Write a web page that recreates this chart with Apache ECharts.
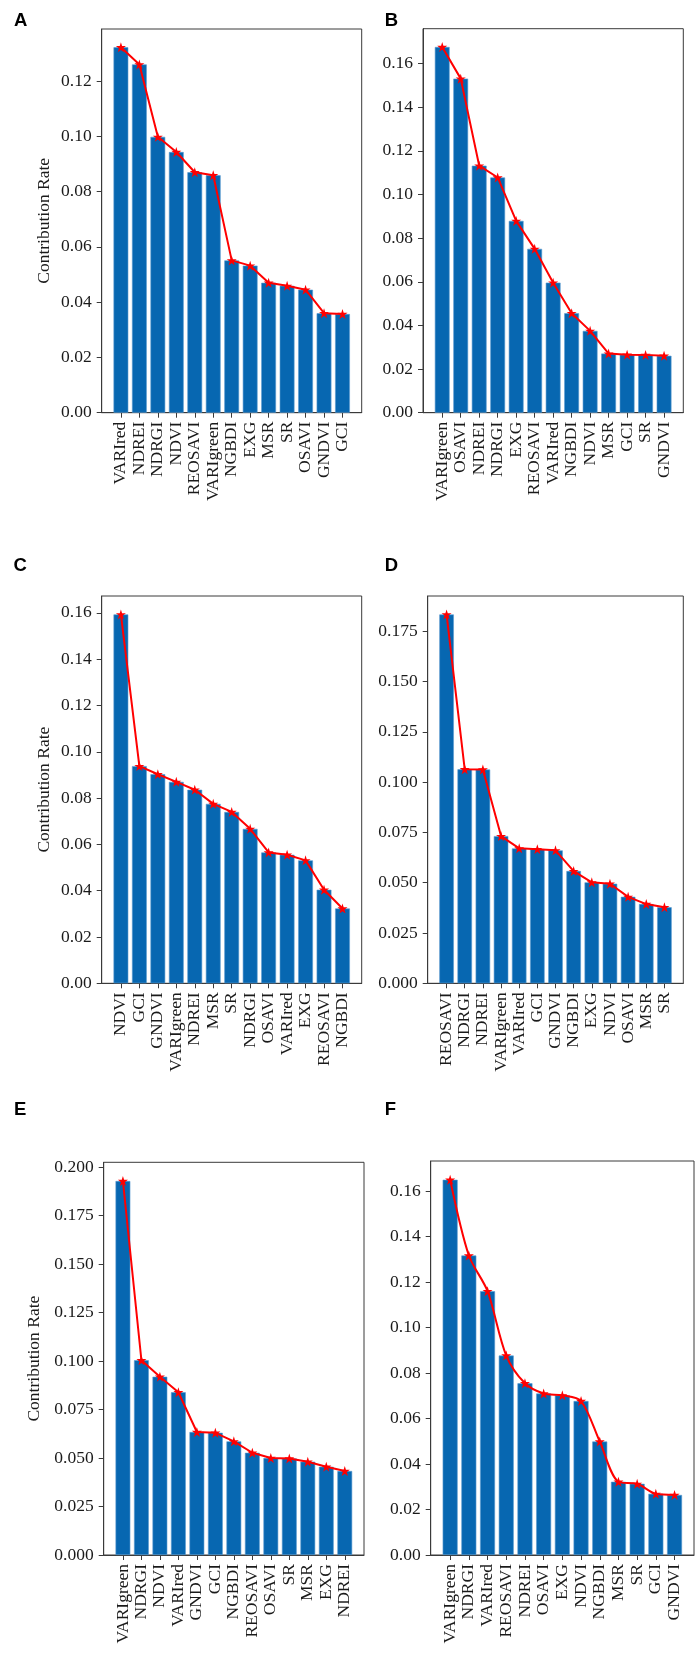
<!DOCTYPE html>
<html>
<head>
<meta charset="utf-8">
<script src="https://cdn.jsdelivr.net/npm/echarts@6/dist/echarts.min.js"></script>
<style>
html,body{margin:0;padding:0;background:#fff;}
#chart{width:698px;height:1653px;}
</style>
</head>
<body>
<div id="chart"></div>
<script>
// ---- data ----
const catsA = ['VARIred','NDREI','NDRGI','NDVI','REOSAVI','VARIgreen','NGBDI','EXG','MSR','SR','OSAVI','GNDVI','GCI'];
const valsA = [0.1322,0.1260,0.0998,0.0943,0.0870,0.0859,0.0551,0.0532,0.0470,0.0459,0.0445,0.0360,0.0357];
const ticksA = ['0.00','0.02','0.04','0.06','0.08','0.10','0.12'];

const catsB = ['VARIgreen','OSAVI','NDREI','NDRGI','EXG','REOSAVI','VARIred','NGBDI','NDVI','MSR','GCI','SR','GNDVI'];
const valsB = [0.1676,0.1531,0.1132,0.1078,0.0879,0.0751,0.0596,0.0456,0.0375,0.0271,0.0266,0.0265,0.0261];
const ticksB = ['0.00','0.02','0.04','0.06','0.08','0.10','0.12','0.14','0.16'];

const catsC = ['NDVI','GCI','GNDVI','VARIgreen','NDREI','MSR','SR','NDRGI','OSAVI','VARIred','EXG','REOSAVI','NGBDI'];
const valsC = [0.1593,0.0938,0.0903,0.0870,0.0836,0.0775,0.0740,0.0667,0.0565,0.0555,0.0531,0.0404,0.0323];
const ticksC = ['0.00','0.02','0.04','0.06','0.08','0.10','0.12','0.14','0.16'];

const catsD = ['REOSAVI','NDRGI','NDREI','VARIgreen','VARIred','GCI','GNDVI','NGBDI','EXG','NDVI','OSAVI','MSR','SR'];
const valsD = [0.1834,0.1064,0.1063,0.0732,0.0671,0.0667,0.0661,0.0558,0.0502,0.0495,0.0430,0.0394,0.0378];
const ticksD = ['0.000','0.025','0.050','0.075','0.100','0.125','0.150','0.175'];

const catsE = ['VARIgreen','NDRGI','NDVI','VARIred','GNDVI','GCI','NGBDI','REOSAVI','OSAVI','SR','MSR','EXG','NDREI'];
const valsE = [0.1928,0.1004,0.0919,0.0839,0.0634,0.0630,0.0586,0.0527,0.0500,0.0498,0.0481,0.0455,0.0433];
const ticksE = ['0.000','0.025','0.050','0.075','0.100','0.125','0.150','0.175','0.200'];

const catsF = ['VARIgreen','NDRGI','VARIred','REOSAVI','NDREI','OSAVI','EXG','NDVI','NGBDI','MSR','SR','GCI','GNDVI'];
const valsF = [0.1650,0.1317,0.1160,0.0877,0.0755,0.0710,0.0702,0.0677,0.0499,0.0322,0.0313,0.0269,0.0264];
const ticksF = ['0.00','0.02','0.04','0.06','0.08','0.10','0.12','0.14','0.16'];

const letters = ['A','B','C','D','E','F'];
const yTitle = 'Contribution Rate';

// ---- layout / style ----
const panels = [
  {cats:catsA, vals:valsA, ticks:ticksA, grid:{left:101.7, top:29,    width:260,   height:383.7}, title:true, nameGap:48, smooth:false, letter:{left:9, top:6}},
  {cats:catsB, vals:valsB, ticks:ticksB, grid:{left:423,   top:28.7,  width:260.3, height:384},   title:false, smooth:false, letter:{left:379.7, top:6}},
  {cats:catsC, vals:valsC, ticks:ticksC, grid:{left:101.7, top:596,   width:260,   height:387.3}, title:true, nameGap:48, smooth:false, letter:{left:8.5, top:551.5}},
  {cats:catsD, vals:valsD, ticks:ticksD, grid:{left:427.7, top:596,   width:255.6, height:387.3}, title:false, smooth:false, letter:{left:379.7, top:551.5}},
  {cats:catsE, vals:valsE, ticks:ticksE, grid:{left:103.7, top:1162.3,width:260.3, height:392.7}, title:true, nameGap:60, smooth:false, letter:{left:9, top:1095.5}},
  {cats:catsF, vals:valsF, ticks:ticksF, grid:{left:430.7, top:1161,  width:263.3, height:394},   title:false, smooth:0.3, letter:{left:379.7, top:1095.5}}
];

const FONT = 'Liberation Serif';
const TXT = '#1a1a1a';
const AX = '#3a3a3a';
const BAR = '#0767b1';
const STAR = 'path://M50,0 L61.2,34.5 L97.6,34.5 L68.2,55.9 L79.4,90.5 L50,69.1 L20.6,90.5 L31.8,55.9 L2.4,34.5 L38.8,34.5 Z';

const option = {
  backgroundColor:'#fff',
  animation:false,
  title:[], grid:[], xAxis:[], yAxis:[], series:[]
};

panels.forEach((p, i) => {
  const n = p.cats.length;
  const pad = 0.05 * (n - 1 + 0.8);
  option.title.push({
    text: letters[i], left: p.letter.left, top: p.letter.top,
    textStyle:{fontFamily:'Liberation Sans', fontWeight:'bold', fontSize:18.5, color:'#000'}
  });
  option.grid.push(Object.assign({
    show:true, borderColor:AX, borderWidth:1, backgroundColor:'transparent',
    containLabel:false, outerBoundsMode:'none'
  }, p.grid));
  const idx = p.cats.map((c, k) => k);
  option.xAxis.push({
    type:'value', gridIndex:i, min:-0.4 - pad, max:(n - 1) + 0.4 + pad,
    axisLine:{show:true, onZero:false, lineStyle:{color:AX, width:1}},
    axisTick:{show:true, customValues:idx, length:5, lineStyle:{color:AX}},
    splitLine:{show:false},
    axisLabel:{
      customValues:idx, rotate:90, margin:9,
      fontFamily:FONT, fontSize:17.5, color:TXT,
      formatter:(v) => p.cats[Math.round(v)]
    }
  });
  const tv = p.ticks.map(Number);
  option.yAxis.push({
    type:'value', gridIndex:i, min:0, max:(e) => e.max * 1.05,
    name: p.title ? yTitle : '', nameLocation:'middle', nameRotate:90, nameGap:p.nameGap || 40,
    nameTextStyle:{fontFamily:FONT, fontSize:17.5, color:TXT},
    axisLine:{show:true, onZero:false, lineStyle:{color:AX, width:1}},
    axisTick:{show:true, customValues:tv, length:5, lineStyle:{color:AX}},
    splitLine:{show:false},
    axisLabel:{
      customValues:tv, margin:10, fontFamily:FONT, fontSize:17.5, color:TXT,
      formatter:(v) => { const k = tv.findIndex(t => Math.abs(t - v) < 1e-9); return k >= 0 ? p.ticks[k] : ''; }
    }
  });
  const data = p.vals.map((v, k) => [k, v]);
  option.series.push({
    type:'bar', xAxisIndex:i, yAxisIndex:i, data:data, barWidth:'80%',
    itemStyle:{color:BAR, borderColor:'#5b9bd0', borderWidth:0.6}
  });
  option.series.push({
    type:'line', xAxisIndex:i, yAxisIndex:i, data:data, smooth:p.smooth,
    symbol:STAR, symbolSize:10,
    lineStyle:{color:'#ff0000', width:2},
    itemStyle:{color:'#ff0000'}
  });
});

const chart = echarts.init(document.getElementById('chart'), null, {renderer:'canvas'});
chart.setOption(option);
</script>
</body>
</html>
